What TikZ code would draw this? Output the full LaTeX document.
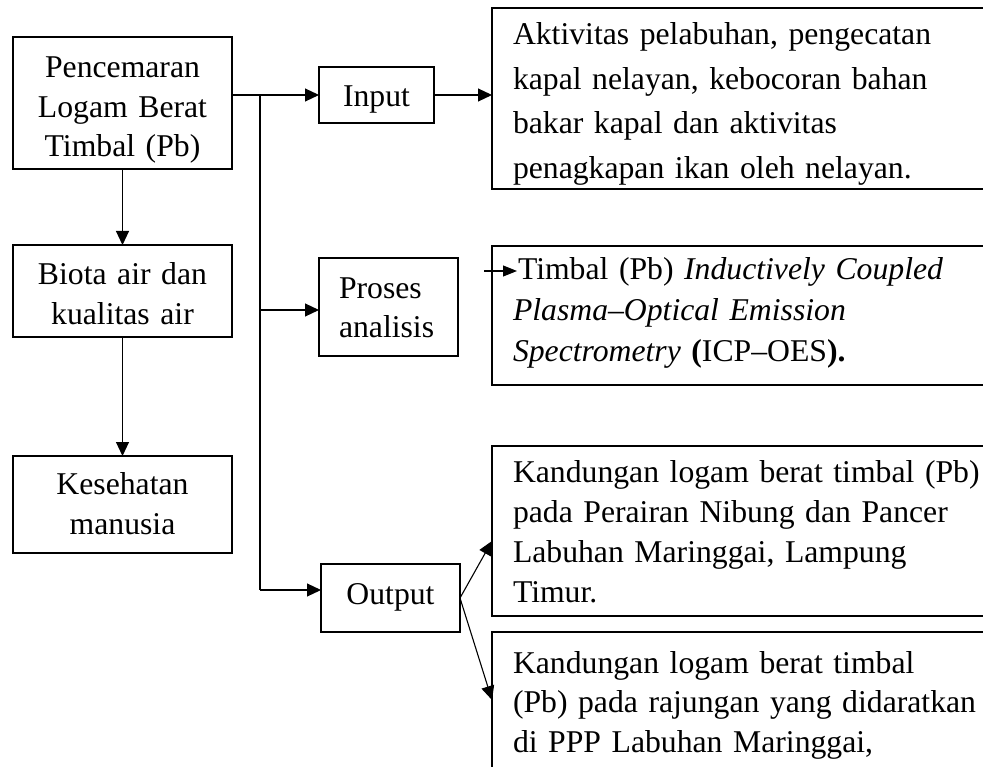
\documentclass[tikz,border=0pt]{standalone}
\usepackage{fontspec}
\setmainfont{Liberation Serif}
\usetikzlibrary{arrows.meta,calc}
\begin{document}
\begin{tikzpicture}[x=1pt,y=-1pt,
  box/.style={draw,line width=2pt,rectangle,inner sep=0pt,outer sep=0pt,anchor=north west,font=\fontsize{31.7}{40}\selectfont},
  cbox/.style={box,align=center},
  lbox/.style={box,align=left,inner xsep=21pt},
  arr/.style={line width=1.1pt,-{Triangle[length=14pt,width=13pt]}},
  arrs/.style={line width=1.1pt,-{Triangle[length=14pt,width=11pt]}},
  ln/.style={line width=1.1pt}]
\useasboundingbox (0,0) rectangle (983,767);
\clip (0,0) rectangle (983,767);

% left column
\node[cbox,text width=219pt,text height=41pt,text depth=91pt,font=\fontsize{31.7}{39.5}\selectfont] (P) at (13,37) {Pencemaran\\Logam Berat\\Timbal (Pb)};
\node[cbox,text width=219pt,text height=40pt,text depth=52pt] (B) at (13,245) {Biota air dan\\kualitas air};
\node[cbox,text width=219pt,text height=38pt,text depth=59pt] (K) at (13,456) {Kesehatan\\manusia};

% middle column
\node[cbox,text width=115pt,text height=40pt,text depth=16pt] (In) at (319,67) {Input};
\node[box,align=left,inner xsep=20pt,text width=99pt,text height=41pt,text depth=57pt,font=\fontsize{31.7}{39}\selectfont] (Pr) at (319,258) {Proses\\analisis};
\node[cbox,text width=139pt,text height=40pt,text depth=28pt] (O) at (321,564) {Output};

% right column (open to the right edge)
\node[lbox,text width=476pt,text height=37pt,text depth=144pt,font=\fontsize{31.7}{44.5}\selectfont] (R1) at (492,8)
  {Aktivitas pelabuhan, pengecatan\\kapal nelayan, kebocoran bahan\\bakar kapal dan aktivitas\\penagkapan ikan oleh nelayan.};
\node[lbox,text width=476pt,text height=34pt,text depth=105pt,font=\fontsize{31.7}{41}\selectfont] (R2) at (492,246)
  {\hspace*{5pt}Timbal (Pb) \textit{Inductively Coupled}\\\textit{Plasma–Optical Emission}\\\textit{Spectrometry} \textbf{(}ICP–OES\textbf{).}};
\node[lbox,text width=476pt,text height=36pt,text depth=134pt,font=\fontsize{31.7}{40}\selectfont] (R3) at (492,446)
  {Kandungan logam berat timbal (Pb)\\pada Perairan Nibung dan Pancer\\Labuhan Maringgai, Lampung\\Timur.};
\node[lbox,text width=476pt,text height=41pt,text depth=200pt,font=\fontsize{31.7}{39.5}\selectfont] (R4) at (492,632)
  {Kandungan logam berat timbal\\(Pb) pada rajungan yang didaratkan\\di PPP Labuhan Maringgai,};

% connectors
\coordinate (ta) at (260,95);
\coordinate (tb) at (260,310);
\coordinate (tc) at (260,590);
\coordinate (o1) at (492,541);
\coordinate (o2) at (492,700);
\coordinate (s1) at (484,271);
\coordinate (s2) at (517,271);

\draw[arr] (In.west -| P.east) -- (In.west);
\draw[ln] (ta) -- (tc);
\draw[arr] (tb) -- (tb -| Pr.west);
\draw[arr] (tc) -- (tc -| O.west);
\draw[arr] (In.east) -- (In.east -| R1.west);
\draw[arr] (P.south) -- (B.north);
\draw[arr] (B.south) -- (K.north);
\draw[arr] (O.east) -- (o1);
\draw[arr] (O.east) -- (o2);
\draw[arrs] (s1) -- (s2);
\end{tikzpicture}
\end{document}
